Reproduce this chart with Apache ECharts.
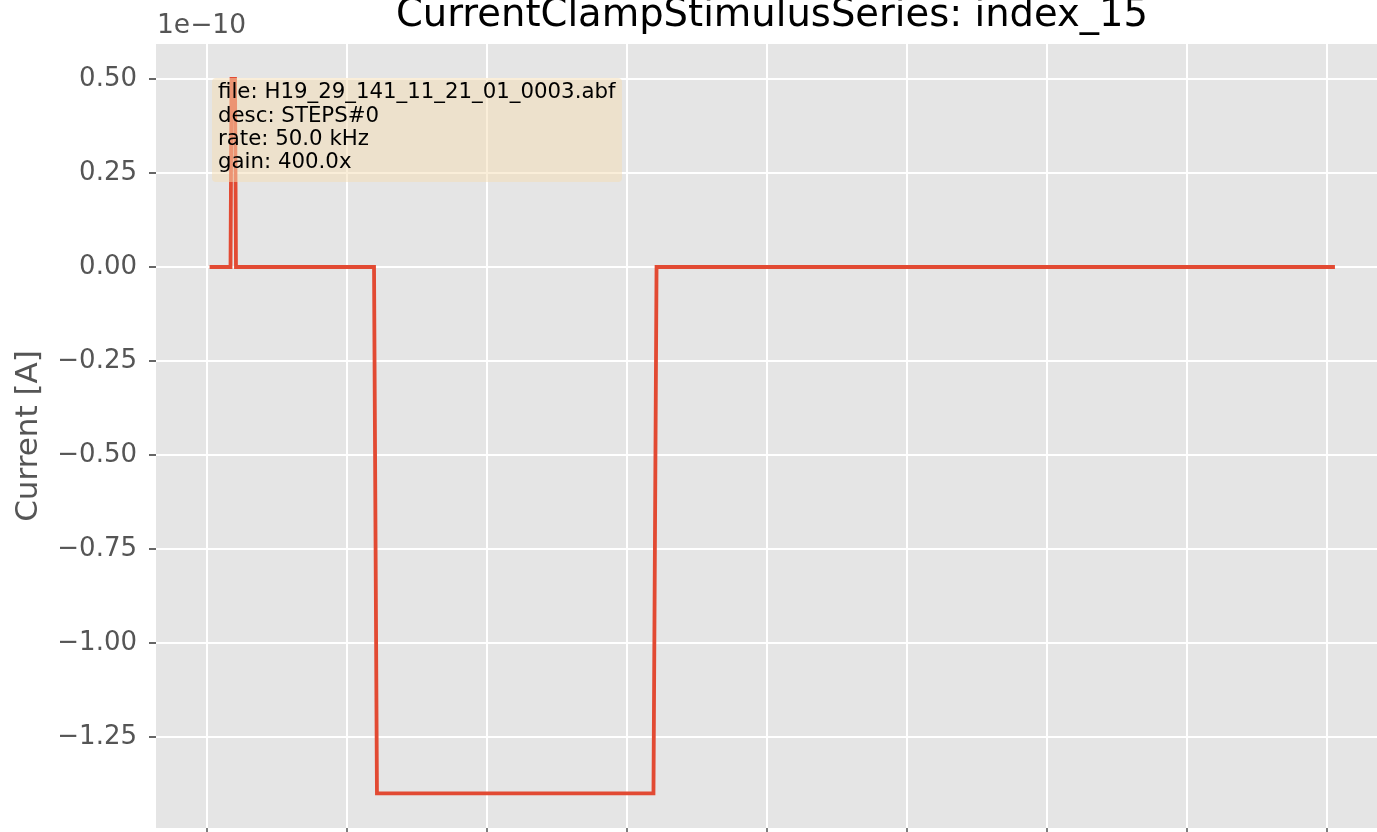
<!DOCTYPE html>
<html>
<head>
<meta charset="utf-8">
<script src="https://cdn.jsdelivr.net/npm/echarts@6/dist/echarts.min.js"></script>
<style>
  html, body { margin: 0; padding: 0; background: #fff; }
  #chart { width: 1377px; height: 832px; }
</style>
</head>
<body>
<div id="chart"></div>
<script>
// sweep trace, x in tick units, y in 1e-10 A
const time = [0.032, 0.168, 0.175, 0.200, 0.207, 1.193, 1.214, 3.189, 3.211, 8.043];
const current = [0, 0, 0.5, 0.5, 0, 0, -1.4, -1.4, 0, 0];

const xTicks = [0, 1, 2, 3, 4, 5, 6, 7, 8];
const yTicks = [-1.25, -1.0, -0.75, -0.5, -0.25, 0, 0.25, 0.5];

const infoLines = [
  'file: H19_29_141_11_21_01_0003.abf',
  'desc: STEPS#0',
  'rate: 50.0 kHz',
  'gain: 400.0x',
];

const font = 'DejaVu Sans';
const chart = echarts.init(document.getElementById('chart'));

const fmt = (v) => (v < 0 ? '\u2212' : '') + Math.abs(v).toFixed(2);

const option = {
  animation: false,
  textStyle: { fontFamily: font },
  grid: {
    left: 156,
    top: 44,
    width: 1232,
    height: 784,
    show: true,
    backgroundColor: '#E5E5E5',
    borderWidth: 0,
    containLabel: false,
    outerBoundsMode: 'none',
  },
  xAxis: {
    type: 'value',
    min: -0.3643,
    max: 8.4357,
    axisLine: { show: false, onZero: false },
    axisTick: {
      show: true,
      length: 6,
      customValues: xTicks,
      lineStyle: { color: '#555', width: 1.5 },
    },
    axisLabel: { show: false, customValues: xTicks },
    splitLine: { show: true, lineStyle: { color: '#fff', width: 2 } },
  },
  yAxis: {
    type: 'value',
    min: -1.492,
    max: 0.5931,
    name: 'Current [A]',
    nameLocation: 'middle',
    nameGap: 112,
    nameTextStyle: { fontSize: 31, color: '#555', fontFamily: font },
    axisLine: { show: false, onZero: false },
    axisTick: {
      show: true,
      length: 7,
      customValues: yTicks,
      lineStyle: { color: '#555', width: 1.8 },
    },
    axisLabel: {
      customValues: yTicks,
      margin: 19,
      fontSize: 26,
      color: '#555',
      fontFamily: font,
      formatter: fmt,
    },
    splitLine: { show: true, lineStyle: { color: '#fff', width: 2 } },
  },
  graphic: [
    {
      type: 'text',
      x: 772,
      y: 16,
      style: {
        text: 'CurrentClampStimulusSeries: index_15',
        font: '38.5px "DejaVu Sans"',
        fill: '#000',
        textAlign: 'center',
        textVerticalAlign: 'middle',
      },
    },
    {
      type: 'text',
      x: 157,
      y: 26,
      style: {
        text: '1e\u221210',
        font: '26.5px "DejaVu Sans"',
        fill: '#555',
        textAlign: 'left',
        textVerticalAlign: 'middle',
      },
    },
    {
      type: 'rect',
      z: 100,
      shape: { x: 212, y: 78, width: 410, height: 104, r: 4 },
      style: { fill: 'rgba(245,222,179,0.5)' },
    },
    {
      type: 'text',
      z: 101,
      x: 218,
      y: 81,
      style: {
        text: infoLines.join('\n'),
        font: '21.3px "DejaVu Sans"',
        lineHeight: 23.4,
        fill: '#000',
        textAlign: 'left',
        textVerticalAlign: 'top',
      },
    },
  ],
  series: [
    {
      type: 'line',
      data: time.map((t, i) => [t, current[i]]),
      showSymbol: false,
      lineStyle: { color: '#E24A33', width: 3.8, join: 'miter', cap: 'square' },
    },
  ],
};

chart.setOption(option);
window.addEventListener('resize', () => {
  chart.resize();
});
</script>
</body>
</html>
